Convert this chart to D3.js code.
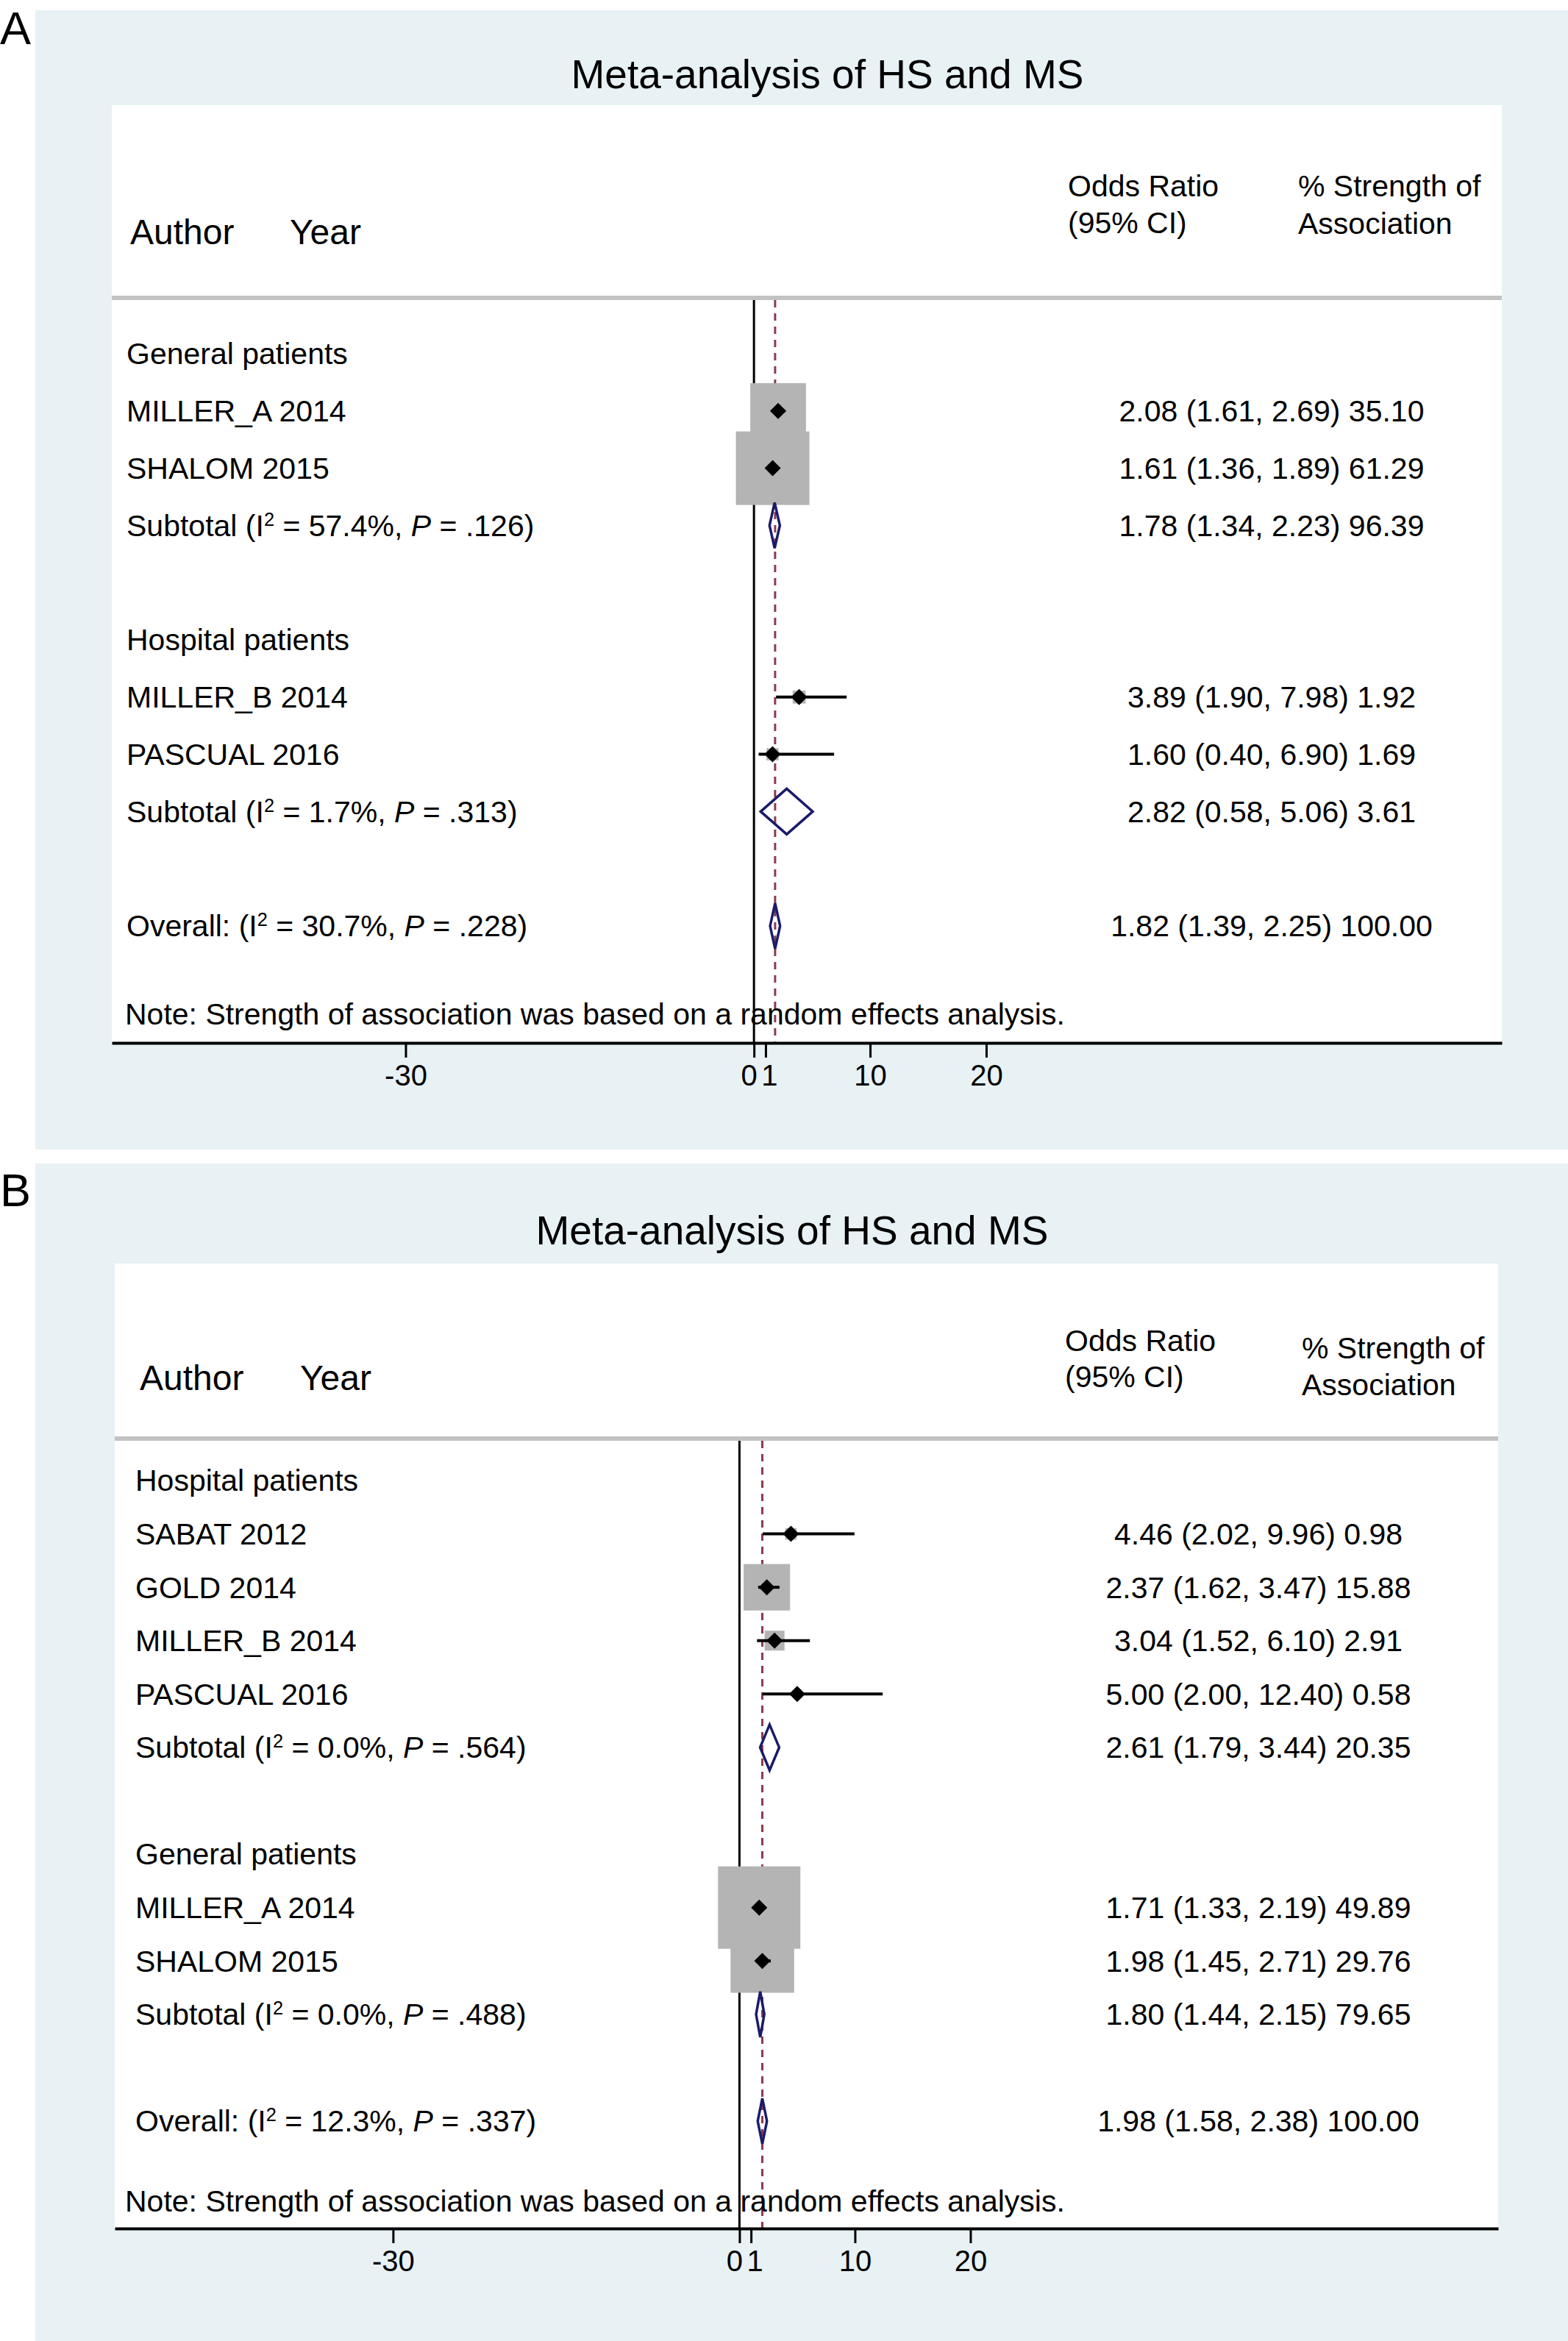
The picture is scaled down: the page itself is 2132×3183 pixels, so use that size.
<!DOCTYPE html>
<html>
<head>
<meta charset="utf-8">
<script src="https://cdn.jsdelivr.net/npm/d3@7"></script>
<style>
  body { margin: 0; background: #fff; }
  text { font-family: "Liberation Sans", Arial, sans-serif; fill: #000; }
</style>
</head>
<body>
<script>
// ---- data, panel A ----
const groupsA = ["General patients", "Hospital patients"];
const studiesA = ["MILLER_A 2014", "SHALOM 2015", "MILLER_B 2014", "PASCUAL 2016"];
const studyGroupA = [0, 0, 1, 1];
const orA = [2.08, 1.61, 3.89, 1.60];
const lowA = [1.61, 1.36, 1.90, 0.40];
const highA = [2.69, 1.89, 7.98, 6.90];
const weightA = [35.10, 61.29, 1.92, 1.69];
const subOrA = [1.78, 2.82];
const subLowA = [1.34, 0.58];
const subHighA = [2.23, 5.06];
const subWeightA = [96.39, 3.61];
const subI2A = ["57.4%", "1.7%"];
const subPA = [".126", ".313"];
const overallA = [1.82, 1.39, 2.25, 100.00];
const overallStatsA = ["30.7%", ".228"];

// ---- data, panel B ----
const groupsB = ["Hospital patients", "General patients"];
const studiesB = ["SABAT 2012", "GOLD 2014", "MILLER_B 2014", "PASCUAL 2016", "MILLER_A 2014", "SHALOM 2015"];
const studyGroupB = [0, 0, 0, 0, 1, 1];
const orB = [4.46, 2.37, 3.04, 5.00, 1.71, 1.98];
const lowB = [2.02, 1.62, 1.52, 2.00, 1.33, 1.45];
const highB = [9.96, 3.47, 6.10, 12.40, 2.19, 2.71];
const weightB = [0.98, 15.88, 2.91, 0.58, 49.89, 29.76];
const subOrB = [2.61, 1.80];
const subLowB = [1.79, 1.44];
const subHighB = [3.44, 2.15];
const subWeightB = [20.35, 79.65];
const subI2B = ["0.0%", "0.0%"];
const subPB = [".564", ".488"];
const overallB = [1.98, 1.58, 2.38, 100.00];
const overallStatsB = ["12.3%", ".337"];

// axis ticks (same on both panels)
const tickValues = [-30, 0, 1, 10, 20];

const titleText = "Meta-analysis of HS and MS";
const noteText = "Note: Strength of association was based on a random effects analysis.";

const W = 2132, H = 3183;
const svg = d3.select("body").append("svg")
    .attr("width", W)
    .attr("height", H)
    .style("display", "block");

svg.append("rect").attr("width", W).attr("height", H).attr("fill", "#fff");

// layout for each panel
const panels = [
    {
        letter: "A", bgTop: 14, bgBottom: 1563, letterY: 60,
        titleX: 1125, titleY: 120,
        plotX0: 152, plotX1: 2042, plotY0: 143, axisY: 1418, lineY: 405,
        xDomain: [-55.3, 64.4],
        rowY: [481, 1259],
        labelX: 172, numX: 1729,
        authorX: 177, yearX: 394, authorY: 332,
        orX: 1452, orY: [267, 317], strX: 1765, strY: [267, 318],
        noteY: 1393, boxMax: 100,
        groups: groupsA, studies: studiesA, studyGroup: studyGroupA,
        or: orA, low: lowA, high: highA, weight: weightA,
        subOr: subOrA, subLow: subLowA, subHigh: subHighA, subWeight: subWeightA,
        subI2: subI2A, subP: subPA, overall: overallA, overallStats: overallStatsA
    },
    {
        letter: "B", bgTop: 1582, bgBottom: 3183, letterY: 1640,
        titleX: 1077, titleY: 1692,
        plotX0: 156, plotX1: 2037, plotY0: 1718, axisY: 3030, lineY: 1956,
        xDomain: [-54.1, 65.7],
        rowY: [2013, 2884],
        labelX: 184, numX: 1711,
        authorX: 190, yearX: 408, authorY: 1890,
        orX: 1448, orY: [1837, 1886], strX: 1770, strY: [1847, 1897],
        noteY: 3007, boxMax: 112,
        groups: groupsB, studies: studiesB, studyGroup: studyGroupB,
        or: orB, low: lowB, high: highB, weight: weightB,
        subOr: subOrB, subLow: subLowB, subHigh: subHighB, subWeight: subWeightB,
        subI2: subI2B, subP: subPB, overall: overallB, overallStats: overallStatsB
    }
];

const fmt = d3.format(".2f");

function pooledLabel(sel, prefix, i2, p) {
    sel.append("tspan").text(prefix + " (I");
    sel.append("tspan").attr("baseline-shift", "super").attr("font-size", "0.62em").text("2");
    sel.append("tspan").text(" = " + i2 + ", ");
    sel.append("tspan").attr("font-style", "italic").text("P");
    sel.append("tspan").text(" = " + p + ")");
}

function drawPanel(c) {
    const g = svg.append("g");

    // background
    g.append("rect")
        .attr("x", 48).attr("y", c.bgTop)
        .attr("width", W - 48).attr("height", c.bgBottom - c.bgTop)
        .attr("fill", "#e8f1f4");
    g.append("rect")
        .attr("x", c.plotX0).attr("y", c.plotY0)
        .attr("width", c.plotX1 - c.plotX0).attr("height", c.axisY - c.plotY0)
        .attr("fill", "#fff");

    g.append("text").attr("x", 0).attr("y", c.letterY)
        .attr("font-size", 63).text(c.letter);
    g.append("text").attr("x", c.titleX).attr("y", c.titleY)
        .attr("text-anchor", "middle").attr("font-size", 55).text(titleText);

    // headers
    g.append("text").attr("x", c.authorX).attr("y", c.authorY).attr("font-size", 48).text("Author");
    g.append("text").attr("x", c.yearX).attr("y", c.authorY).attr("font-size", 48).text("Year");
    g.append("text").attr("x", c.orX).attr("y", c.orY[0]).attr("font-size", 41).text("Odds Ratio");
    g.append("text").attr("x", c.orX).attr("y", c.orY[1]).attr("font-size", 41).text("(95% CI)");
    g.append("text").attr("x", c.strX).attr("y", c.strY[0]).attr("font-size", 41).text("% Strength of");
    g.append("text").attr("x", c.strX).attr("y", c.strY[1]).attr("font-size", 41).text("Association");

    g.append("line")
        .attr("x1", c.plotX0).attr("x2", c.plotX1)
        .attr("y1", c.lineY).attr("y2", c.lineY)
        .attr("stroke", "#c2c2c2").attr("stroke-width", 6);

    // build rows from the data
    const rows = [];
    let r = 0;
    c.groups.forEach((name, gi) => {
        rows.push({ type: "group", row: r++, label: name });
        c.studies.forEach((s, i) => {
            if (c.studyGroup[i] === gi) {
                rows.push({ type: "study", row: r++, label: s, or: c.or[i], low: c.low[i], high: c.high[i], w: c.weight[i] });
            }
        });
        rows.push({ type: "pooled", row: r++, prefix: "Subtotal", i2: c.subI2[gi], p: c.subP[gi],
            or: c.subOr[gi], low: c.subLow[gi], high: c.subHigh[gi], w: c.subWeight[gi] });
        r++; // blank row
    });
    rows.push({ type: "pooled", row: r, prefix: "Overall:", i2: c.overallStats[0], p: c.overallStats[1],
        or: c.overall[0], low: c.overall[1], high: c.overall[2], w: c.overall[3] });

    const x = d3.scaleLinear().domain(c.xDomain).range([c.plotX0, c.plotX1]);
    const y = d3.scaleLinear().domain([0, r]).range(c.rowY);
    const box = d3.scaleSqrt().domain([0, d3.max(c.weight)]).range([0, c.boxMax]);

    // reference lines
    g.append("line")
        .attr("x1", x(0)).attr("x2", x(0))
        .attr("y1", c.lineY + 3).attr("y2", c.axisY)
        .attr("stroke", "#000").attr("stroke-width", 3);
    g.append("line")
        .attr("x1", x(c.overall[0])).attr("x2", x(c.overall[0]))
        .attr("y1", c.lineY + 3).attr("y2", c.axisY)
        .attr("stroke", "#8c3b4e").attr("stroke-width", 3)
        .attr("stroke-dasharray", "10,8");

    const studies = rows.filter(d => d.type === "study");
    const pooled = rows.filter(d => d.type === "pooled");

    // weight boxes
    g.selectAll(".box").data(studies).join("rect")
        .attr("class", "box")
        .attr("x", d => x(d.or) - box(d.w) / 2)
        .attr("y", d => y(d.row) - box(d.w) / 2)
        .attr("width", d => box(d.w))
        .attr("height", d => box(d.w))
        .attr("fill", "#b4b4b4");

    // confidence intervals
    g.selectAll(".ci").data(studies).join("line")
        .attr("class", "ci")
        .attr("x1", d => x(d.low)).attr("x2", d => x(d.high))
        .attr("y1", d => y(d.row)).attr("y2", d => y(d.row))
        .attr("stroke", "#000").attr("stroke-width", 4);

    // point estimates
    g.selectAll(".pt").data(studies).join("path")
        .attr("class", "pt")
        .attr("d", d => {
            const cx = x(d.or), cy = y(d.row), s = 11;
            return `M${cx - s},${cy}L${cx},${cy - s}L${cx + s},${cy}L${cx},${cy + s}Z`;
        })
        .attr("fill", "#000");

    // pooled diamonds
    g.selectAll(".pool").data(pooled).join("path")
        .attr("class", "pool")
        .attr("d", d => {
            const cy = y(d.row), h = 31;
            return `M${x(d.low)},${cy}L${x(d.or)},${cy - h}L${x(d.high)},${cy}L${x(d.or)},${cy + h}Z`;
        })
        .attr("fill", "none")
        .attr("stroke", "#1b1b6b").attr("stroke-width", 3.5);

    // left labels
    rows.forEach(d => {
        const t = g.append("text")
            .attr("x", c.labelX).attr("y", y(d.row))
            .attr("dy", "0.35em").attr("font-size", 41);
        if (d.type === "pooled") pooledLabel(t, d.prefix, d.i2, d.p);
        else t.text(d.label);
    });

    // right estimates
    g.selectAll(".est").data(rows.filter(d => d.type !== "group")).join("text")
        .attr("class", "est")
        .attr("x", c.numX).attr("y", d => y(d.row))
        .attr("dy", "0.35em").attr("font-size", 41)
        .attr("text-anchor", "middle")
        .text(d => `${fmt(d.or)} (${fmt(d.low)}, ${fmt(d.high)}) ${fmt(d.w)}`);

    g.append("text").attr("x", 170).attr("y", c.noteY).attr("font-size", 41).text(noteText);

    // x axis
    const axis = g.append("g")
        .attr("transform", `translate(0,${c.axisY})`)
        .call(d3.axisBottom(x).tickValues(tickValues).tickSize(20).tickSizeOuter(0).tickPadding(10).tickFormat(d => String(d)));
    axis.select(".domain").attr("stroke", "#000").attr("stroke-width", 4);
    axis.selectAll(".tick line").attr("stroke", "#000").attr("stroke-width", 3);
    axis.selectAll(".tick text")
        .attr("font-size", 40)
        .attr("font-family", "Liberation Sans, Arial, sans-serif")
        .attr("fill", "#000")
        // 0 and 1 sit almost on top of each other: push them apart a little
        .attr("dx", d => d === 0 ? -7 : d === 1 ? 5 : 0);
}

panels.forEach(drawPanel);
</script>
</body>
</html>
